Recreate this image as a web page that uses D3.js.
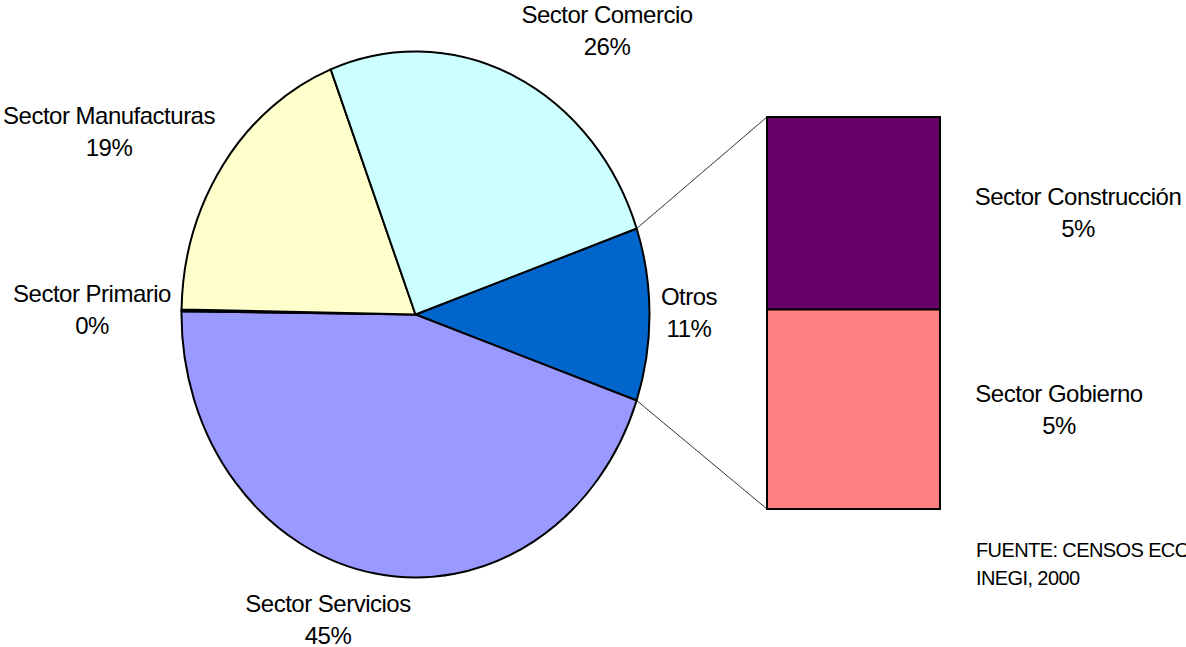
<!DOCTYPE html>
<html>
<head>
<meta charset="utf-8">
<script src="https://cdn.jsdelivr.net/npm/d3@7"></script>
<style>
  body { margin: 0; background: #fff; }
  svg { display: block; font-family: "Liberation Sans", Arial, sans-serif; }
</style>
</head>
<body>
<div id="wrapper"></div>
<script>
// pie data (clockwise from the "Otros" slice)
const pieNames = ["Otros", "Sector Servicios", "Sector Primario", "Sector Manufacturas", "Sector Comercio"]
const pieColors = ["#0066CC", "#9999FF", "#FFFFFF", "#FFFFCC", "#CCFFFF"]
// bar (breakdown of Otros), bottom to top
const barNames = ["Sector Gobierno", "Sector Construcción"]
const barValues = [5.4, 5.2]
const barColors = ["#FF8080", "#660066"]
const otrosValue = d3.sum(barValues)
const pieValues = [otrosValue, 44.9, 0.1, 18.8, 25.6]
const total = d3.sum(pieValues)

const sourceLines = ["FUENTE: CENSOS ECONÓMICOS", "INEGI, 2000"]

const width = 1186
const height = 647

// label anchors (center x, first baseline)
const labelPos = {
    "Otros": [689, 305],
    "Sector Servicios": [328, 612],
    "Sector Primario": [92, 302],
    "Sector Manufacturas": [109, 124],
    "Sector Comercio": [607, 23],
    "Sector Gobierno": [1059, 402],
    "Sector Construcción": [1078, 205],
}

const cx = 415.5, cy = 314.5, rx = 234, ry = 263
const bar = { x0: 767, x1: 940, top: 117, bottom: 509 }

const svg = d3.select("#wrapper")
    .append("svg")
    .attr("width", width)
    .attr("height", height)

const otrosAngle = otrosValue / total * 2 * Math.PI
const start = Math.PI / 2 - otrosAngle / 2

const pie = d3.pie().sort(null).value(d => d).startAngle(start).endAngle(start + 2 * Math.PI)
const arcs = pie(pieValues)
const arc = d3.arc().innerRadius(0).outerRadius(rx)

const pieG = svg.append("g")
    .attr("transform", `translate(${cx},${cy}) scale(1,${ry / rx})`)

pieG.selectAll("path")
    .data(arcs)
    .join("path")
    .attr("d", arc)
    .attr("fill", (d, i) => pieColors[i])
    .attr("stroke", "#000")
    .attr("stroke-width", 2)
    .attr("stroke-linejoin", "round")
    .attr("vector-effect", "non-scaling-stroke")

// bar of Otros
const y = d3.scaleLinear().domain([0, otrosValue]).range([bar.bottom, bar.top])
const stack = d3.cumsum(barValues)
svg.append("g").selectAll("rect")
    .data(barValues)
    .join("rect")
    .attr("x", bar.x0)
    .attr("width", bar.x1 - bar.x0)
    .attr("y", (d, i) => y(stack[i]))
    .attr("height", (d, i) => y(stack[i] - d) - y(stack[i]))
    .attr("fill", (d, i) => barColors[i])
    .attr("stroke", "#000")
    .attr("stroke-width", 2)

// connector lines
const o = arcs[0]
const ePoint = a => [cx + rx * Math.sin(a), cy - ry * Math.cos(a)]
const p0 = ePoint(o.startAngle), p1 = ePoint(o.endAngle)
svg.append("line")
    .attr("x1", p0[0]).attr("y1", p0[1])
    .attr("x2", bar.x0).attr("y2", y(otrosValue))
    .attr("stroke", "#000").attr("stroke-width", 0.8)
svg.append("line")
    .attr("x1", p1[0]).attr("y1", p1[1])
    .attr("x2", bar.x0).attr("y2", y(0))
    .attr("stroke", "#000").attr("stroke-width", 0.8)

// labels
const labels = pieNames.map((n, i) => [n, pieValues[i]])
    .concat(barNames.map((n, i) => [n, barValues[i]]))

labels.forEach(([name, v]) => {
    const [lx, ly] = labelPos[name]
    const t = svg.append("text")
        .attr("text-anchor", "middle")
        .attr("font-size", "24px")
        .attr("letter-spacing", "-0.5px")
        .attr("fill", "#000")
    t.append("tspan").attr("x", lx).attr("y", ly).text(name)
    t.append("tspan").attr("x", lx).attr("y", ly + 32).text(Math.round(v / total * 100) + "%")
})

// source note
svg.append("g").selectAll("text")
    .data(sourceLines)
    .join("text")
    .attr("x", 976)
    .attr("y", (d, i) => 557 + i * 28)
    .attr("font-size", "20px")
    .attr("letter-spacing", "-0.6px")
    .attr("fill", "#000")
    .text(d => d)
</script>
</body>
</html>
